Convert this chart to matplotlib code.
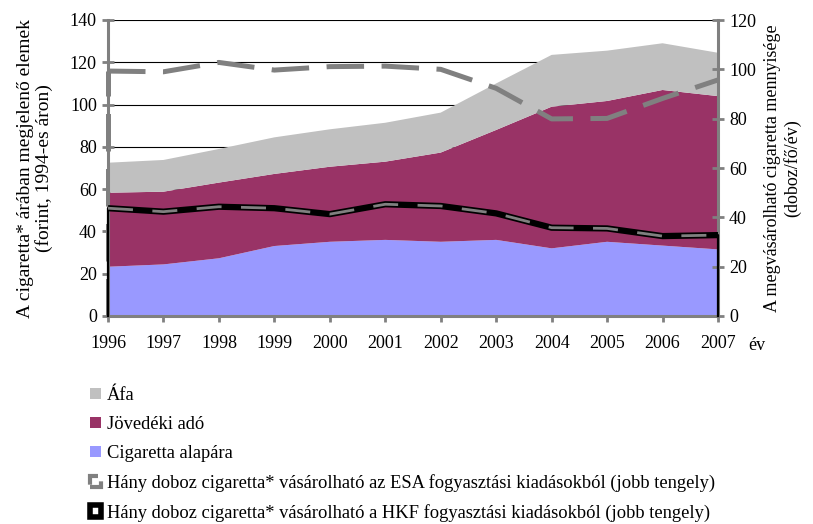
"""
Cigaretta árának összetevői és a megvásárolható mennyiség, 1996-2007.
"""
import matplotlib
matplotlib.use('Agg')
import matplotlib.pyplot as plt
from matplotlib.patches import Patch

plt.rcParams['font.family'] = ['Liberation Serif', 'DejaVu Serif']

years = [1996, 1997, 1998, 1999, 2000, 2001, 2002, 2003, 2004, 2005, 2006, 2007]
alapar = [23.3, 24.4, 27.3, 33.1, 35.1, 36.0, 35.1, 36.0, 32.0, 35.1, 33.3, 31.5]
jovedeki = [35.0, 34.4, 35.8, 34.1, 35.5, 37.0, 42.2, 52.0, 67.0, 66.6, 73.6, 72.5]
afa = [14.2, 15.0, 15.9, 17.3, 17.7, 18.4, 18.9, 22.0, 24.5, 23.8, 22.1, 20.5]
esa = [99.3, 99.0, 102.8, 99.7, 101.1, 101.3, 100.0, 92.3, 79.9, 80.1, 88.2, 95.7]
hkf = [43.7, 42.3, 44.3, 43.7, 41.3, 45.3, 44.6, 41.6, 35.8, 35.5, 32.4, 32.8]

labels = ['Áfa', 'Jövedéki adó', 'Cigaretta alapára',
          'Hány doboz cigaretta* vásárolható az ESA fogyasztási kiadásokból (jobb tengely)',
          'Hány doboz cigaretta* vásárolható a HKF fogyasztási kiadásokból (jobb tengely)']

C_AFA = '#c0c0c0'
C_JOV = '#993366'
C_ALAP = '#9999ff'
GRAY = '#808080'

fig = plt.figure(figsize=(8.13, 5.24), dpi=100)
ax = fig.add_axes([108 / 813, 1 - 316 / 524, 610 / 813, 296 / 524])
ax2 = ax.twinx()

# stacked areas
ax.stackplot(years, alapar, jovedeki, afa, colors=[C_ALAP, C_JOV, C_AFA], zorder=2)
ax.set_xlim(years[0], years[-1])
ax.set_ylim(0, 140)
ax.set_yticks(range(0, 141, 20))
ax.set_xticks(years)
ax.grid(axis='y', color='black', lw=0.8)
ax.set_axisbelow(True)

# left edge of the ESA outline sits behind the areas
ax.plot([years[0], years[0]], [0, esa[0]], transform=ax2.transData, color=GRAY,
        lw=3.6, dashes=(7.5, 3.5), zorder=1.5, clip_on=False)

# right axis series
ax2.set_ylim(0, 120)
ax2.set_yticks(range(0, 121, 20))
ax2.plot(years, esa, color=GRAY, lw=3.6, dashes=(7.5, 3.5), zorder=3)
ax2.plot([years[0]] + years + [years[-1]], [0] + hkf + [0], color='black', lw=1.6,
         zorder=3, clip_on=False)
ax2.plot(years, hkf, color='black', lw=4.5, zorder=3, solid_capstyle='butt')
ax2.plot(years, hkf, color=GRAY, lw=2.0, dashes=(9, 7), zorder=4)

for a in (ax, ax2):
    for s in a.spines.values():
        s.set_visible(False)
    a.tick_params(colors=GRAY, labelcolor='black', width=2, length=8,
                  direction='inout', labelsize=13)
ax.spines['left'].set_visible(True)
ax.spines['bottom'].set_visible(True)
ax2.spines['right'].set_visible(True)
for s in (ax.spines['left'], ax.spines['bottom'], ax2.spines['right']):
    s.set_color(GRAY)
    s.set_linewidth(2.2)
ax.tick_params(axis='x', pad=10)
ax.tick_params(axis='y', pad=4)
ax2.tick_params(axis='y', pad=4)

ax.set_ylabel('A cigaretta* árában megjelenő elemek\n(forint, 1994-es áron)',
              fontsize=14, labelpad=12, linespacing=1.1)
ax2.set_ylabel('A megvásárolható cigaretta mennyisége\n(doboz/fő/év)',
               fontsize=13, labelpad=6, linespacing=1.15)
fig.text(757 / 813, 1 - 345 / 524, 'év', fontsize=13, ha='center', va='center')

handles = [Patch(facecolor=C_AFA, edgecolor='none'),
           Patch(facecolor=C_JOV, edgecolor='none'),
           Patch(facecolor=C_ALAP, edgecolor='none'),
           Patch(facecolor='white', edgecolor=GRAY, lw=3, linestyle=(0, (4, 2))),
           Patch(facecolor='white', edgecolor='black', lw=4)]
fig.legend(handles, labels, loc='upper left', bbox_to_anchor=(90 / 813, 1 - 387 / 524),
           frameon=False, fontsize=13.3, handlelength=0.6, handleheight=0.6,
           handletextpad=0.3, labelspacing=0.65, borderaxespad=0, borderpad=0)

fig.savefig('out.png', dpi=100)
